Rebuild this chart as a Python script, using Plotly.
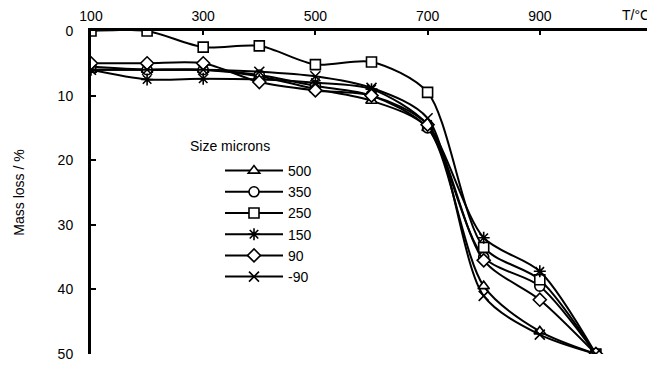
import plotly.graph_objects as go

temps = [100, 200, 300, 400, 500, 600, 700, 800, 900, 1000]

sizes = ["500", "350", "250", "150", "90", "-90"]
loss_500 = [6.0, 6.0, 6.0, 7.0, 9.0, 10.8, 15.0, 39.5, 46.5, 50]
loss_350 = [5.5, 6.0, 6.0, 6.8, 8.5, 10.0, 15.0, 35.0, 39.5, 50]
loss_250 = [0.0, 0.0, 2.5, 2.3, 5.2, 4.8, 9.5, 33.5, 38.5, 50]
loss_150 = [6.0, 7.5, 7.4, 7.5, 8.0, 9.0, 14.5, 32.0, 37.2, 50]
loss_90 = [5.0, 5.0, 5.0, 7.9, 9.2, 10.0, 14.5, 35.5, 41.6, 50]
loss_m90 = [6.0, 6.0, 6.0, 6.3, 7.0, 8.8, 13.5, 41.0, 47.0, 50]

series = [loss_500, loss_350, loss_250, loss_150, loss_90, loss_m90]
symbols = ["triangle-up", "circle", "square", "asterisk-open", "diamond", "x-thin-open"]
marker_fill = ["white", "white", "white", "black", "white", "black"]

x_ticks = [100, 300, 500, 700, 900]
y_ticks = [0, 10, 20, 30, 40, 50]

fig = go.Figure()
for name, vals, sym, fill in zip(sizes, series, symbols, marker_fill):
    fig.add_trace(go.Scatter(
        x=temps, y=vals, name=name, mode="lines+markers",
        line=dict(color="black", width=2, shape="spline", smoothing=0.8),
        marker=dict(symbol=sym, size=10, color=fill,
                    line=dict(color="black", width=1.6)),
    ))

font_family = "Liberation Sans, Arial, sans-serif"

# page body has an 8px margin, so the figure is sized to fit inside the window
fig.update_layout(
    width=647, height=357,
    margin=dict(l=83, r=3, t=23, b=11),
    paper_bgcolor="white", plot_bgcolor="white",
    font=dict(family=font_family, size=14, color="black"),
    showlegend=True,
    legend=dict(x=(220 - 91) / 561, y=1 - (155 - 31) / 323,
                xanchor="left", yanchor="top",
                bgcolor="rgba(0,0,0,0)", font=dict(size=14),
                itemwidth=58, tracegroupgap=0),
    xaxis=dict(range=[100, 1100], side="top", tickvals=x_ticks,
               showgrid=False, zeroline=False, showline=True,
               linecolor="black", linewidth=3, ticks="inside",
               ticklen=4, tickwidth=1.5, tickcolor="black",
               tickfont=dict(size=14), automargin=False,
               ticklabelstandoff=1),
    yaxis=dict(range=[50, 0], tickvals=y_ticks, showgrid=False,
               zeroline=False, showline=True, linecolor="black",
               linewidth=3, ticks="inside", ticklen=5, tickwidth=1.5,
               tickcolor="black", tickfont=dict(size=14),
               automargin=False, ticklabelstandoff=12,
               title=dict(text="Mass loss / %", font=dict(size=14), standoff=30)),
    annotations=[
        dict(text="T/°C", xref="paper", yref="paper", x=1.0, y=1.0,
             xanchor="right", yanchor="middle", yshift=16, showarrow=False,
             font=dict(size=14)),
        dict(text="Size microns", xref="paper", yref="paper",
             x=(188 - 91) / 561, y=1 - (146 - 31) / 323,
             xanchor="left", yanchor="middle", showarrow=False,
             font=dict(size=14)),
    ],
)

fig.write_html("out.html")
